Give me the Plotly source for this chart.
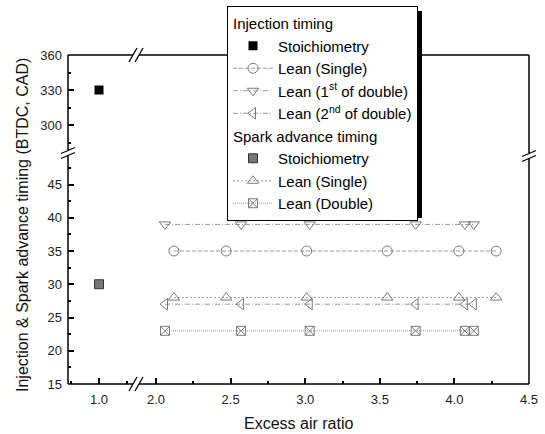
import plotly.graph_objects as go

# ---------------- data ----------------
lam_stoich = [1.0]
inj_stoich = [330]
spark_stoich = [30]

lam_single = [2.12, 2.47, 3.01, 3.55, 4.03, 4.28]
inj_single = [35, 35, 35, 35, 35, 35]
spark_single = [28, 28, 28, 28, 28, 28]

lam_double = [2.06, 2.57, 3.03, 3.74, 4.07, 4.13]
inj_first = [39, 39, 39, 39, 39, 39]
inj_second = [27, 27, 27, 27, 27, 27]
spark_double = [23, 23, 23, 23, 23, 23]

ylow_ticks = [15, 20, 25, 30, 35, 40, 45]
ylow_minor = [17.5, 22.5, 27.5, 32.5, 37.5, 42.5, 47.5]
yup_ticks = [300, 330, 360]
yup_minor = [285, 315, 345]
xleft_ticks = [1.0]
xleft_labels = ["1.0"]
xleft_minor = [0.75, 1.25]
xright_ticks = [2.0, 2.5, 3.0, 3.5, 4.0, 4.5]
xright_minor = [2.25, 2.75, 3.25, 3.75, 4.25]

# ---------------- geometry helpers ----------------
W, H = 545, 434
L, R, T, B = 68, 529, 55, 384
PW, PH = R - L, B - T


def px(x):
    return (x - L) / PW


def py(y):
    return (B - y) / PH


FONT = "Liberation Sans, Arial, sans-serif"
GRAY_M = "#7a7a7a"
GRAY_L = "#9a9a9a"
LEG_FS = 15

fig = go.Figure()

# Injection timing group
fig.add_trace(go.Scatter(
    x=lam_stoich, y=inj_stoich, xaxis="x", yaxis="y2", mode="markers",
    name="Stoichiometry", legendgroup="inj",
    legendgrouptitle=dict(text="Injection timing", font=dict(size=LEG_FS, color="black")),
    marker=dict(symbol="square", size=9, color="black", line=dict(width=0))))
fig.add_trace(go.Scatter(
    x=lam_single, y=inj_single, xaxis="x2", yaxis="y", mode="lines+markers",
    name="Lean (Single)", legendgroup="inj",
    line=dict(color=GRAY_L, width=1, dash="4px,2px"),
    marker=dict(symbol="circle-open", size=10, color=GRAY_M, line=dict(width=1))))
fig.add_trace(go.Scatter(
    x=lam_double, y=inj_first, xaxis="x2", yaxis="y", mode="lines+markers",
    name="Lean (1<sup>st</sup> of double)", legendgroup="inj",
    line=dict(color=GRAY_L, width=1, dash="5px,2px,1px,2px"),
    marker=dict(symbol="triangle-down-open", size=10, color=GRAY_M, line=dict(width=1))))
fig.add_trace(go.Scatter(
    x=lam_double, y=inj_second, xaxis="x2", yaxis="y", mode="lines+markers",
    name="Lean (2<sup>nd</sup> of double)", legendgroup="inj",
    line=dict(color=GRAY_L, width=1, dash="5px,2px,1px,2px"),
    marker=dict(symbol="triangle-left-open", size=10, color=GRAY_M, line=dict(width=1))))

# Spark advance timing group
fig.add_trace(go.Scatter(
    x=lam_stoich, y=spark_stoich, xaxis="x", yaxis="y", mode="markers",
    name="Stoichiometry", legendgroup="spark",
    legendgrouptitle=dict(text="Spark advance timing", font=dict(size=LEG_FS, color="black")),
    marker=dict(symbol="square", size=9, color="#777777", line=dict(width=1, color="#333333"))))
fig.add_trace(go.Scatter(
    x=lam_single, y=spark_single, xaxis="x2", yaxis="y", mode="lines+markers",
    name="Lean (Single)", legendgroup="spark",
    line=dict(color=GRAY_L, width=1, dash="2px,2px"),
    marker=dict(symbol="triangle-up-open", size=10, color=GRAY_M, line=dict(width=1))))
fig.add_trace(go.Scatter(
    x=lam_double, y=spark_double, xaxis="x2", yaxis="y", mode="lines+markers",
    name="Lean (Double)", legendgroup="spark",
    line=dict(color=GRAY_L, width=1, dash="1px,1px"),
    marker=dict(symbol="square-x-open", size=9, color=GRAY_M, line=dict(width=1))))

# ---------------- axes ----------------
x_left_dom = [0, px(136)]
x_right_dom = [px(138), 1]
y_low_dom = [0, py(156)]
y_up_dom = [py(149), 1]

common = dict(showgrid=False, zeroline=False, showline=False, ticks="inside",
              ticklen=6, tickwidth=1.5, tickcolor="black",
              tickfont=dict(family=FONT, size=13, color="#222222"))

fig.update_layout(
    xaxis=dict(domain=x_left_dom, range=[1.0 - 31 / 113.6, 1.0 + 68 / 113.6 - 31 / 113.6],
               anchor="y", tickvals=xleft_ticks, ticktext=xleft_labels,
               minor=dict(tickvals=xleft_minor, ticks="inside", ticklen=3, tickwidth=1.5,
                          tickcolor="black"),
               ticklabelstandoff=6, **common),
    xaxis2=dict(domain=x_right_dom, range=[1.879, 4.5], anchor="y",
                tickvals=xright_ticks, tickformat=".1f",
                minor=dict(tickvals=xright_minor, ticks="inside", ticklen=3, tickwidth=1.5,
                           tickcolor="black"),
                ticklabelstandoff=6, **common),
    yaxis=dict(domain=y_low_dom, range=[15, 15 + 228 / 6.65], anchor="x",
               tickvals=ylow_ticks,
               minor=dict(tickvals=ylow_minor, ticks="inside", ticklen=3, tickwidth=1.5,
                          tickcolor="black"),
               ticklabelstandoff=5, **common),
    yaxis2=dict(domain=y_up_dom, range=[360 - 94 / (35 / 30), 360], anchor="x",
                tickvals=yup_ticks,
                minor=dict(tickvals=yup_minor, ticks="inside", ticklen=3, tickwidth=1.5,
                           tickcolor="black"),
                ticklabelstandoff=5, **common),
)

# ---------------- frame with breaks ----------------
shapes = []


def seg(x0, y0, x1, y1, w=1.5):
    shapes.append(dict(type="line", xref="paper", yref="paper",
                       x0=px(x0), y0=py(y0), x1=px(x1), y1=py(y1),
                       line=dict(color="black", width=w), layer="above"))


# left border
seg(L, B, L, 155.5)
seg(L, 150.5, L, T)
# right border
seg(R, B, R, 158.5)
seg(R, 153.5, R, T)
# top border
seg(L, T, 133, T)
seg(139, T, R, T)
# bottom border
seg(L, B, 133, B)
seg(139, B, R, B)

# break slashes on vertical axes
for cx, cy in [(L, 153), (R, 156)]:
    for dy in (-2.5, 2.5):
        seg(cx - 7, cy + dy + 3, cx + 7, cy + dy - 3, 1.3)
# break slashes on horizontal axes
for cy in (T, B):
    for dx in (-3, 3):
        seg(136 + dx - 4, cy + 7, 136 + dx + 4, cy - 7, 1.3)

# legend shadow
shapes.append(dict(type="rect", xref="paper", yref="paper",
                   x0=px(232), y0=py(218), x1=px(422), y1=py(11),
                   fillcolor="black", line=dict(width=0), layer="above"))

fig.update_layout(shapes=shapes)

# ---------------- titles ----------------
fig.add_annotation(text="Excess air ratio", xref="paper", yref="paper",
                   x=px(298.5), y=py(423), showarrow=False,
                   font=dict(family=FONT, size=16, color="#111111"),
                   xanchor="center", yanchor="middle")
fig.add_annotation(text="Injection & Spark advance timing (BTDC, CAD)", xref="paper", yref="paper",
                   x=px(22), y=py(225), showarrow=False, textangle=-90,
                   font=dict(family=FONT, size=16, color="#111111"),
                   xanchor="center", yanchor="middle")

fig.update_layout(
    width=W, height=H,
    margin=dict(l=L, r=W - R, t=T, b=H - B, pad=0, autoexpand=False),
    paper_bgcolor="white", plot_bgcolor="white",
    font=dict(family=FONT, size=16, color="black"),
    showlegend=True,
    legend=dict(xref="container", yref="container",
                x=227 / W, y=1 - 6 / H, xanchor="left", yanchor="top",
                bgcolor="white", bordercolor="black", borderwidth=1,
                font=dict(family=FONT, size=LEG_FS, color="black"),
                traceorder="grouped", tracegroupgap=0, itemwidth=40,
                itemclick=False),
)

fig.write_html("out.html", config={"displayModeBar": False},
               post_script="document.body.style.margin='0';document.body.style.padding='0';")
